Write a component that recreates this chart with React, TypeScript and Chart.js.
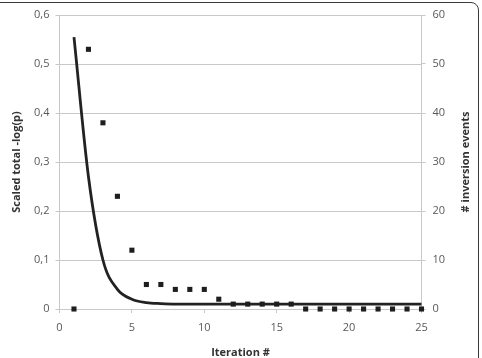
import { useEffect, useRef } from 'react';
import { Chart, registerables } from 'chart.js';

Chart.register(...registerables);

// Iteration number on the x axis
const iterations = [1, 2, 3, 4, 5, 6, 7, 8, 9, 10, 11, 12, 13, 14, 15, 16, 17, 18, 19, 20, 21, 22, 23, 24, 25];

// Scaled total -log(p) per iteration (left axis, drawn as a smooth line)
const scaledScore = [
  0.555, 0.27, 0.1, 0.04, 0.02, 0.013, 0.011, 0.01, 0.01, 0.01,
  0.01, 0.01, 0.01, 0.01, 0.01, 0.01, 0.01, 0.01, 0.01, 0.01,
  0.01, 0.01, 0.01, 0.01, 0.01,
];

// Number of inversion events per iteration (right axis, square markers)
const inversionEvents = [0, 53, 38, 23, 12, 5, 5, 4, 4, 4, 2, 1, 1, 1, 1, 1, 0, 0, 0, 0, 0, 0, 0, 0, 0];

const scoreTickLabels = ['0', '0,1', '0,2', '0,3', '0,4', '0,5', '0,6'];
const eventTickLabels = ['0', '10', '20', '30', '40', '50', '60'];
const iterationTickLabels = ['0', '5', '10', '15', '20', '25'];

const rightAxisTitle = '# inversion events';

const FONT = "'Open Sans', 'DejaVu Sans', sans-serif";
const TICK_COLOR = '#595959';
const GRID_COLOR = '#c8c8c8';
const TITLE_COLOR = '#333333';

// Right-hand axis title, written bottom-to-top like the left one
const rightTitlePlugin = {
  id: 'rightTitle',
  afterDraw(chart: any) {
    const scale = chart.scales.y1;
    const area = chart.chartArea;
    const ctx = chart.ctx;
    ctx.save();
    ctx.translate(scale.right - 16, (area.top + area.bottom) / 2);
    ctx.rotate(-Math.PI / 2);
    ctx.font = `bold 11px ${FONT}`;
    ctx.fillStyle = TITLE_COLOR;
    ctx.textAlign = 'center';
    ctx.textBaseline = 'middle';
    ctx.fillText(rightAxisTitle, 0, 0);
    ctx.restore();
  },
};

export default function App() {
  const canvasRef = useRef<HTMLCanvasElement | null>(null);

  useEffect(() => {
    const canvas = canvasRef.current;
    if (!canvas) return;

    const chart = new Chart(canvas, {
      data: {
        datasets: [
          {
            type: 'line',
            label: 'Scaled total -log(p)',
            data: iterations.map((x, i) => ({ x, y: scaledScore[i] })),
            yAxisID: 'y',
            borderColor: '#222222',
            borderWidth: 2.8,
            pointRadius: 0,
            cubicInterpolationMode: 'monotone',
            fill: false,
            clip: false as any,
            order: 2,
          },
          {
            type: 'scatter',
            label: rightAxisTitle,
            data: iterations.map((x, i) => ({ x, y: inversionEvents[i] })),
            yAxisID: 'y1',
            pointStyle: 'rect',
            pointRadius: 3.6,
            backgroundColor: '#1e1e1e',
            borderWidth: 0,
            clip: false as any,
            order: 1,
          },
        ],
      },
      options: {
        responsive: false,
        animation: false,
        devicePixelRatio: 1,
        layout: { padding: { top: 15, left: 0, right: 0, bottom: 0 } },
        plugins: {
          legend: { display: false },
          tooltip: { enabled: false },
        },
        scales: {
          x: {
            type: 'linear',
            position: 'bottom',
            min: 0,
            max: 25,
            afterFit: (scale: any) => {
              scale.height = 49;
            },
            ticks: {
              stepSize: 5,
              color: TICK_COLOR,
              font: { family: FONT, size: 11 },
              padding: 8,
              maxRotation: 0,
              callback: (_v: any, i: number) => iterationTickLabels[i],
            },
            grid: {
              drawOnChartArea: false,
              drawTicks: true,
              tickLength: 4,
              color: GRID_COLOR,
            },
            border: { display: true, color: GRID_COLOR },
            title: {
              display: true,
              text: 'Iteration #',
              color: TITLE_COLOR,
              font: { family: FONT, size: 11, weight: 'bold', lineHeight: 1 },
              padding: 0,
            },
          },
          y: {
            type: 'linear',
            position: 'left',
            min: 0,
            max: 0.6,
            afterFit: (scale: any) => {
              scale.width = 59.5;
            },
            ticks: {
              stepSize: 0.1,
              color: TICK_COLOR,
              font: { family: FONT, size: 11 },
              padding: 6,
              callback: (_v: any, i: number) => scoreTickLabels[i],
            },
            grid: {
              drawOnChartArea: true,
              drawTicks: true,
              tickLength: 4,
              color: GRID_COLOR,
            },
            border: { display: true, color: GRID_COLOR },
            title: {
              display: true,
              text: 'Scaled total -log(p)',
              color: TITLE_COLOR,
              font: { family: FONT, size: 11, weight: 'bold', lineHeight: 1 },
              padding: { top: 11.5, bottom: 0 },
            },
          },
          y1: {
            type: 'linear',
            position: 'right',
            min: 0,
            max: 60,
            afterFit: (scale: any) => {
              scale.width = 60.5;
            },
            ticks: {
              stepSize: 10,
              color: TICK_COLOR,
              font: { family: FONT, size: 11 },
              padding: 7,
              callback: (_v: any, i: number) => eventTickLabels[i],
            },
            grid: {
              drawOnChartArea: false,
              drawTicks: true,
              tickLength: 4,
              color: GRID_COLOR,
            },
            border: { display: true, color: GRID_COLOR },
            title: { display: false },
          },
        },
      },
      plugins: [rightTitlePlugin],
    });

    return () => chart.destroy();
  }, []);

  return (
    <div style={{ position: 'fixed', left: 0, top: 0, width: 482, height: 358, background: '#ffffff', overflow: 'hidden' }}>
      <canvas ref={canvasRef} width={482} height={358} style={{ position: 'absolute', left: 0, top: 0 }} />
      <div
        style={{
          position: 'absolute',
          left: -20,
          top: 2,
          width: 499,
          height: 380,
          boxSizing: 'border-box',
          border: '1.5px solid #3a3a3a',
          borderRadius: 8,
          pointerEvents: 'none',
        }}
      />
    </div>
  );
}
